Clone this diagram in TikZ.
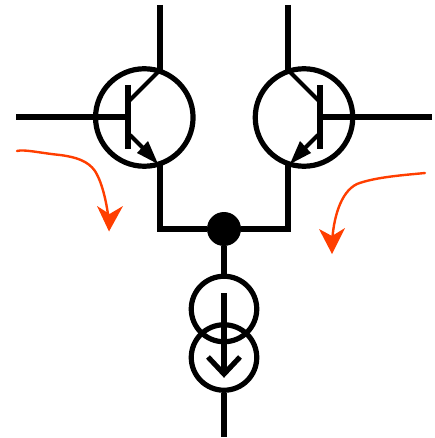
\documentclass[tikz,border=0pt]{standalone}
\tikzset{
  wire/.style={draw=black,line width=5.2pt},
  ring/.style={circle,draw=black,line width=5.2pt,inner sep=0pt,fill=none},
  junction/.style={circle,fill=black,inner sep=0pt,minimum size=34pt},
  head/.style={fill=black,draw=none},
  redline/.style={draw=redc,line width=2.4pt,line cap=round},
  redhead/.style={fill=redc,draw=none},
}
\definecolor{redc}{RGB}{255,62,0}
\begin{document}
\begin{tikzpicture}[x=1pt,y=-1pt]
\useasboundingbox (0,0) rectangle (434,438);
% Left transistor
\node[ring,minimum size=97.5pt] (t1) at (144.3,117.5) {};
\coordinate (c1top) at (160,5);
\coordinate (c1) at (160,70);
\coordinate (b1in) at (16,117);
\coordinate (b1) at (128,117);
\coordinate (bar1t) at (128,85);
\coordinate (bar1b) at (128,149);
\coordinate (bc1) at (128,102);
\coordinate (be1) at (130,135);
\coordinate (e1) at (158,164);
\coordinate (e1low) at (160,163);
\coordinate (k1) at (160,229);
% Right transistor
\node[ring,minimum size=97.5pt] (t2) at (304,117.5) {};
\coordinate (c2top) at (288,5);
\coordinate (c2) at (288,70);
\coordinate (b2in) at (432,117);
\coordinate (b2) at (320,117);
\coordinate (bar2t) at (320,85);
\coordinate (bar2b) at (320,149);
\coordinate (bc2) at (320,102);
\coordinate (be2) at (318,135);
\coordinate (e2) at (290,164);
\coordinate (e2low) at (288,163);
\coordinate (k2) at (288,229);
% Junction and sources
\node[junction] (dot) at (224,229) {};
\node[ring,minimum size=65.5pt] (s1) at (224,309) {};
\node[ring,minimum size=65.5pt] (s2) at (224,357.5) {};
\coordinate (out) at (224,437);
\coordinate (atop) at (224,293);
\coordinate (atip) at (224,374);
\coordinate (al) at (208,357);
\coordinate (ar) at (240,357);
% Wires
\draw[wire] (c1top) -- (c1);
\draw[wire] (b1in) -- (b1);
\draw[wire] (bar1t) -- (bar1b);
\draw[line width=4pt] (bc1) -- (c1);
\draw[line width=4pt] (be1) -- (146,151);
\fill[head] (158,164) -- (137,153) -- (148,141) -- cycle;
\draw[wire,line join=miter] (e1low) -- (k1) -- (dot);
\draw[wire] (c2top) -- (c2);
\draw[wire] (b2in) -- (b2);
\draw[wire] (bar2t) -- (bar2b);
\draw[line width=4pt] (bc2) -- (c2);
\draw[line width=4pt] (be2) -- (302,151);
\fill[head] (290,164) -- (311,153) -- (300,141) -- cycle;
\draw[wire,line join=miter] (e2low) -- (k2) -- (dot);
\draw[wire] (dot) -- (s1);
\draw[wire] (atop) -- (atip);
\draw[wire,line join=miter] (al) -- (atip) -- (ar);
\draw[wire] (s2) -- (out);
% Red arrows
\coordinate (r1s) at (17,151);
\coordinate (r1e) at (109,222);
\draw[redline] (r1s) .. controls (24,149) and (40,153) .. (60,155)
  .. controls (76,157) and (88,161) .. (95,171)
  .. controls (103,184) and (107,205) .. (r1e);
\fill[redc] (109,231.5) -- (97,206) -- (109.5,214) -- (123,206) -- cycle;
\coordinate (r2s) at (425,173);
\coordinate (r2e) at (332,244);
\draw[redline] (r2s) .. controls (405,175) and (375,177) .. (357,184)
  .. controls (340,192) and (333,220) .. (r2e);
\fill[redc] (332,254) -- (319,229) -- (332,236) -- (345,228) -- cycle;
\end{tikzpicture}
\end{document}
